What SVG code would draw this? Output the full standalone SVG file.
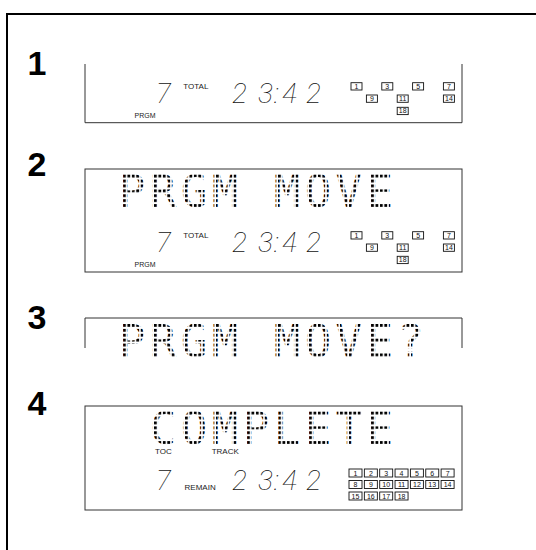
<svg xmlns="http://www.w3.org/2000/svg" width="536" height="550" viewBox="0 0 536 550">
<style>
.frame{fill:none;stroke:#000;stroke-width:2}
.panel{fill:none;stroke:#333;stroke-width:1}
.step{font-family:"Liberation Sans",Arial,sans-serif;font-weight:bold;font-size:34px;fill:#000}
.lbl{font-family:"Liberation Sans",Arial,sans-serif;font-size:8px;fill:#222}
.seg{font-family:Roboto,Lato,Inter,"Open Sans",sans-serif;font-weight:100;font-style:italic;font-size:28px;fill:#111}
.box{fill:#fff;stroke:#111;stroke-width:0.9}
.bn{font-family:"Liberation Sans",Arial,sans-serif;font-size:7px;text-anchor:middle;fill:#111}
.dm{font-family:"DejaVu Sans Mono",monospace;font-size:44px;letter-spacing:4.5px}
</style>
<defs>
<pattern id="dotA" patternUnits="userSpaceOnUse" x="123" y="174.7" width="4.43" height="4.9"><rect width="2.8" height="2.8" fill="#000"/></pattern>
<pattern id="dotB" patternUnits="userSpaceOnUse" x="123" y="324" width="4.43" height="4.9"><rect width="2.8" height="2.8" fill="#000"/></pattern>
<pattern id="dotC" patternUnits="userSpaceOnUse" x="123" y="411.7" width="4.43" height="4.9"><rect width="2.8" height="2.8" fill="#000"/></pattern>
</defs>
<rect width="536" height="550" fill="#fff"/>
<path class="frame" d="M7,551 V14 H537"/>

<g id="step1">
<text class="step" x="27.5" y="75">1</text>
<path class="panel" d="M85,64 V122.7 H462 V64"/>
<text class="seg" x="156" y="102.7">7</text>
<text class="lbl" x="183.3" y="88.7">TOTAL</text>
<text class="lbl" x="134.5" y="117.5" style="font-size:7px">PRGM</text>
<text class="seg" x="232 258 274 282 306" y="102.7">23:42</text>
<rect class="box" x="351" y="82.7" width="11" height="7.3"/><text class="bn" x="356.5" y="88.7">1</text>
<rect class="box" x="381.8" y="82.7" width="11" height="7.3"/><text class="bn" x="387.3" y="88.7">3</text>
<rect class="box" x="412.6" y="82.7" width="11" height="7.3"/><text class="bn" x="418.1" y="88.7">5</text>
<rect class="box" x="443.4" y="82.7" width="11" height="7.3"/><text class="bn" x="448.9" y="88.7">7</text>
<rect class="box" x="366.4" y="95" width="11" height="7.3"/><text class="bn" x="371.9" y="101">9</text>
<rect class="box" x="397.2" y="95" width="11" height="7.3"/><text class="bn" x="402.7" y="101">11</text>
<rect class="box" x="443.4" y="95" width="11" height="7.3"/><text class="bn" x="448.9" y="101">14</text>
<rect class="box" x="397.2" y="107.3" width="11" height="7.3"/><text class="bn" x="402.7" y="113.3">18</text>
</g>

<g id="step2">
<text class="step" x="27.5" y="176">2</text>
<rect class="panel" x="85" y="169" width="377" height="103"/>
<text class="dm" x="118.7" y="207.3" fill="url(#dotA)">PRGM MOVE</text>
<text class="seg" x="156" y="251.7">7</text>
<text class="lbl" x="183.3" y="237.7">TOTAL</text>
<text class="lbl" x="134.5" y="266.5" style="font-size:7px">PRGM</text>
<text class="seg" x="232 258 274 282 306" y="251.7">23:42</text>
<rect class="box" x="351" y="231.7" width="11" height="7.3"/><text class="bn" x="356.5" y="237.7">1</text>
<rect class="box" x="381.8" y="231.7" width="11" height="7.3"/><text class="bn" x="387.3" y="237.7">3</text>
<rect class="box" x="412.6" y="231.7" width="11" height="7.3"/><text class="bn" x="418.1" y="237.7">5</text>
<rect class="box" x="443.4" y="231.7" width="11" height="7.3"/><text class="bn" x="448.9" y="237.7">7</text>
<rect class="box" x="366.4" y="244" width="11" height="7.3"/><text class="bn" x="371.9" y="250">9</text>
<rect class="box" x="397.2" y="244" width="11" height="7.3"/><text class="bn" x="402.7" y="250">11</text>
<rect class="box" x="443.4" y="244" width="11" height="7.3"/><text class="bn" x="448.9" y="250">14</text>
<rect class="box" x="397.2" y="256.3" width="11" height="7.3"/><text class="bn" x="402.7" y="262.3">18</text>
</g>

<g id="step3">
<text class="step" x="27.5" y="329">3</text>
<path class="panel" d="M85,348 V318 H462 V348"/>
<text class="dm" x="118.7" y="356.6" fill="url(#dotB)">PRGM MOVE?</text>
</g>

<g id="step4">
<text class="step" x="27.5" y="415">4</text>
<rect class="panel" x="85" y="406" width="377" height="104"/>
<text class="dm" x="149.7" y="444.3" fill="url(#dotC)">COMPLETE</text>
<text class="lbl" x="155" y="454">TOC</text>
<text class="lbl" x="211.7" y="454">TRACK</text>
<text class="seg" x="156" y="489.5">7</text>
<text class="lbl" x="184.6" y="489.5">REMAIN</text>
<text class="seg" x="232 258 274 282 306" y="489.5">23:42</text>
<rect class="box" x="349" y="469" width="13" height="8"/><text class="bn" x="355.5" y="475.5">1</text>
<rect class="box" x="364.35" y="469" width="13" height="8"/><text class="bn" x="370.85" y="475.5">2</text>
<rect class="box" x="379.7" y="469" width="13" height="8"/><text class="bn" x="386.2" y="475.5">3</text>
<rect class="box" x="395.05" y="469" width="13" height="8"/><text class="bn" x="401.55" y="475.5">4</text>
<rect class="box" x="410.4" y="469" width="13" height="8"/><text class="bn" x="416.9" y="475.5">5</text>
<rect class="box" x="425.75" y="469" width="13" height="8"/><text class="bn" x="432.25" y="475.5">6</text>
<rect class="box" x="441.1" y="469" width="13" height="8"/><text class="bn" x="447.6" y="475.5">7</text>
<rect class="box" x="349" y="480.5" width="13" height="8"/><text class="bn" x="355.5" y="487">8</text>
<rect class="box" x="364.35" y="480.5" width="13" height="8"/><text class="bn" x="370.85" y="487">9</text>
<rect class="box" x="379.7" y="480.5" width="13" height="8"/><text class="bn" x="386.2" y="487">10</text>
<rect class="box" x="395.05" y="480.5" width="13" height="8"/><text class="bn" x="401.55" y="487">11</text>
<rect class="box" x="410.4" y="480.5" width="13" height="8"/><text class="bn" x="416.9" y="487">12</text>
<rect class="box" x="425.75" y="480.5" width="13" height="8"/><text class="bn" x="432.25" y="487">13</text>
<rect class="box" x="441.1" y="480.5" width="13" height="8"/><text class="bn" x="447.6" y="487">14</text>
<rect class="box" x="349" y="492" width="13" height="8"/><text class="bn" x="355.5" y="498.5">15</text>
<rect class="box" x="364.35" y="492" width="13" height="8"/><text class="bn" x="370.85" y="498.5">16</text>
<rect class="box" x="379.7" y="492" width="13" height="8"/><text class="bn" x="386.2" y="498.5">17</text>
<rect class="box" x="395.05" y="492" width="13" height="8"/><text class="bn" x="401.55" y="498.5">18</text>
</g>
</svg>
